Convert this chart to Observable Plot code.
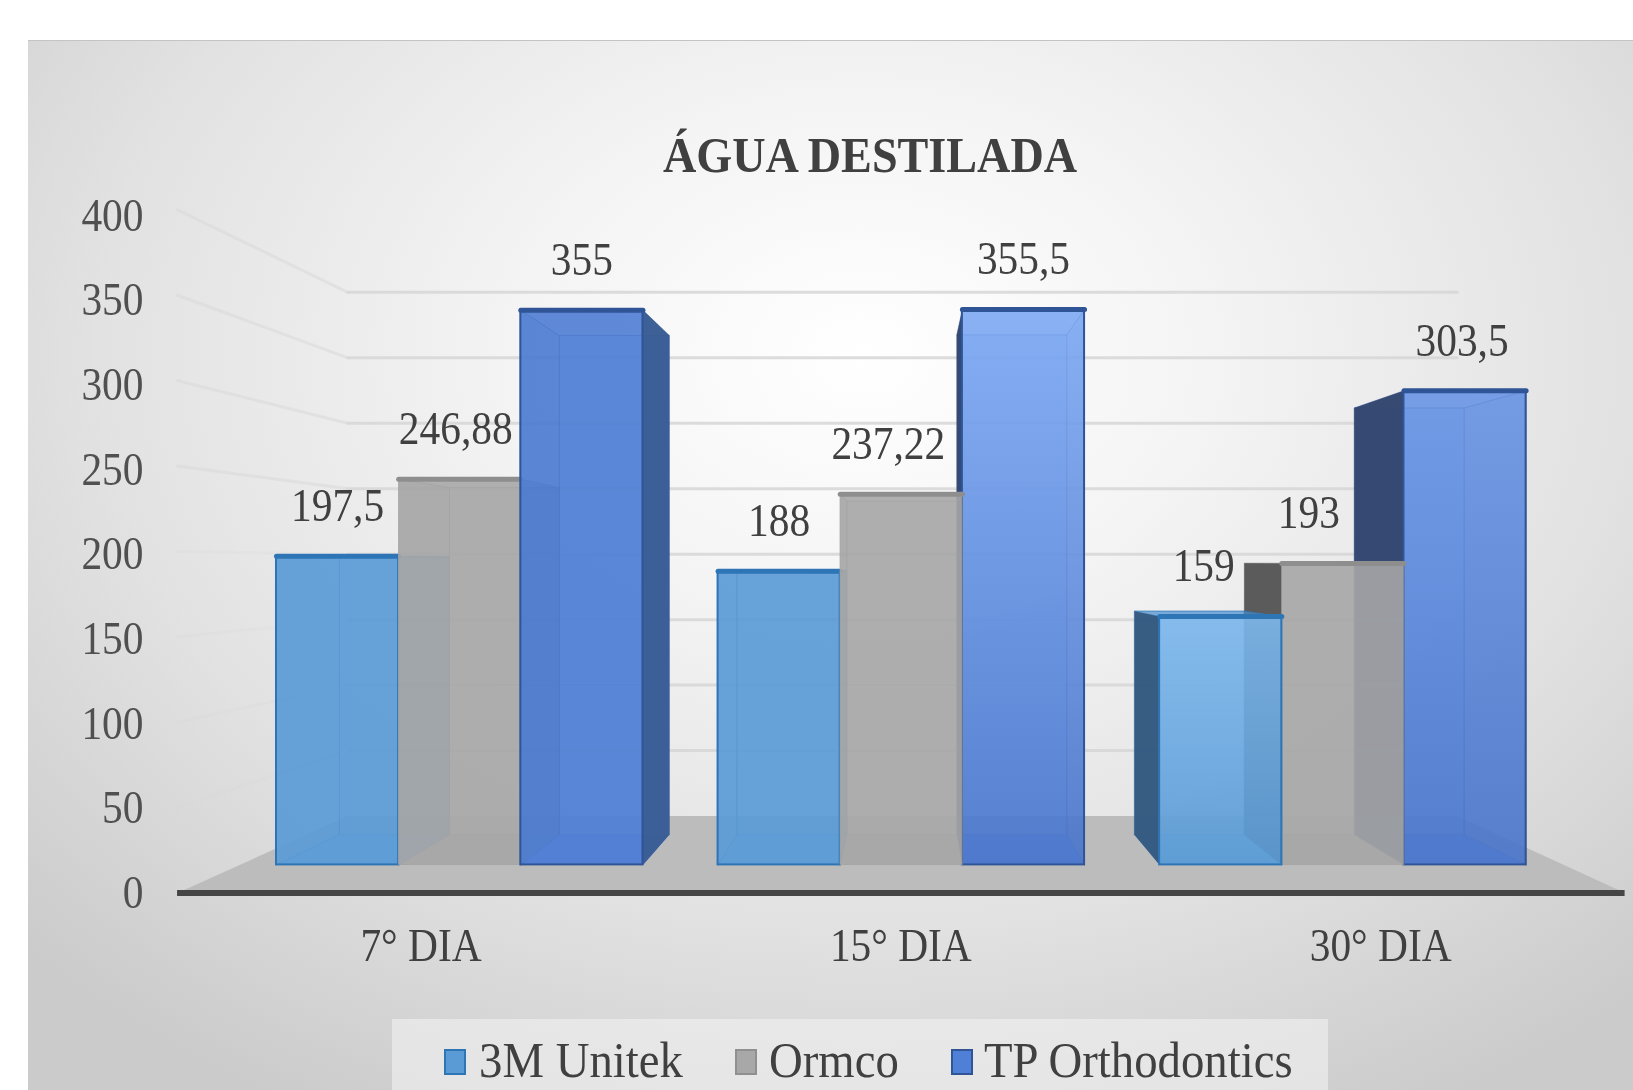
<!DOCTYPE html>
<html lang="pt">
<head>
<meta charset="utf-8">
<title>Água destilada</title>
<script src="https://cdn.jsdelivr.net/npm/d3@7"></script>
<script src="https://cdn.jsdelivr.net/npm/@observablehq/plot@0.6"></script>
<style>
  html, body { margin: 0; padding: 0; width: 1633px; height: 1090px; overflow: hidden; background: #fff; }
  #card { position: absolute; left: 28px; top: 40px; width: 1605px; height: 1050px; overflow: hidden;
    border-top: 1px solid #c4c4c4; box-sizing: border-box;
    background: radial-gradient(ellipse 72% 82% at 52% 30%, #ffffff 0%, #f4f4f4 30%, #e2e2e2 66%, #cbcbcb 100%); }
  #chart { position: absolute; left: 0; top: 0; width: 1633px; height: 1090px; filter: blur(0.7px);
    font-family: "Liberation Serif", serif; color: #404040; }
  #chart svg { position: absolute; left: 0; top: 0; background: transparent; overflow: visible; }
  .title { position: absolute; left: 0; width: 1740px; top: 130px; text-align: center; font-size: 51px; line-height: 1;
    font-weight: bold; color: #404040; transform: scaleX(.905); transform-origin: 870px 0; }
  #legendBox { position: absolute; left: 392px; top: 1019px; width: 936px; height: 71px; background: rgba(240,240,240,.62); }
  .lg { position: absolute; font-size: 50px; line-height: 1; top: 1035px; white-space: nowrap; color: #404040;
    transform: scaleX(.935); transform-origin: 0 0; }
  .sw { position: absolute; width: 22px; height: 26px; top: 1049px; box-sizing: border-box; }
</style>
</head>
<body>
<div id="card"></div>
<svg width="0" height="0" style="position:absolute">
  <defs>
    <linearGradient id="tpLight" x1="0" y1="0" x2="0" y2="1">
      <stop offset="0" stop-color="#82aef8"/><stop offset="1" stop-color="#4a76cc"/>
    </linearGradient>
    <linearGradient id="tpMid" x1="0" y1="0" x2="0" y2="1">
      <stop offset="0" stop-color="#6c98e8"/><stop offset="1" stop-color="#4a76cc"/>
    </linearGradient>
    <linearGradient id="uniLight" x1="0" y1="0" x2="0" y2="1">
      <stop offset="0" stop-color="#82bcf0"/><stop offset="1" stop-color="#5b9bd5"/>
    </linearGradient>
  </defs>
</svg>
<div id="chart"></div>
<script>
const categories = ["7° DIA", "15° DIA", "30° DIA"];
const series = ["3M Unitek", "Ormco", "TP Orthodontics"];
const unitek = [197.5, 188, 159];
const ormco = [246.88, 237.22, 193];
const tp = [355, 355.5, 303.5];
const labels = [["197,5", "188", "159"], ["246,88", "237,22", "193"], ["355", "355,5", "303,5"]];
const yTicks = [0, 50, 100, 150, 200, 250, 300, 350, 400];
const title = "ÁGUA DESTILADA";

/* 3D projection of the Excel chart: k is the depth, 0 being the front of the bars */
const vpX = 870, vpY = 195, kBack = 0.1, kWall = 0.162, kAxis = -0.0934;
const groupStart = g => 265 + 424 * g, barW = 117.3;
const proj = (x, v, k) => {
  const y0 = 16.66 + 0.923 * v;
  return {x: x + (vpX - x) * k, y: y0 + (vpY - y0) * k};
};
const worldL = 229.8, worldR = 1501;

const palette = [
  {base: "#5b9bd5", darkL: "#355a80", darkR: "#355a80", line: "#2e75b6", inner: "#4a90d0", floor: "#4f9be0", edge: 2},
  {base: "#a8a8a8", darkL: "#585858", darkR: "#585858", line: "#8e8e8e", inner: "#8c9094", floor: "#9a9a9a", edge: 0},
  {base: "#4f7fd6", darkL: "#33466e", darkR: "#3a5d95", line: "#2f5597", inner: "#3560b4", floor: "#3f6fd8", edge: 2}
];
const frontFill = [
  ["#5b9bd5", "#5b9bd5", "url(#uniLight)"],
  ["#a8a8a8", "#a8a8a8", "#a8a8a8"],
  ["#4f7fd6", "url(#tpLight)", "url(#tpMid)"]
];
const values = [unitek, ormco, tp];

const poly = (pts, o) => Plot.line([...pts, pts[0]], {x: "x", y: "y", curve: "linear", strokeLinejoin: "round", ...o});

const marks = [];
/* floor */
marks.push(poly([proj(worldL, 0, kAxis), proj(worldR, 0, kAxis), proj(worldR, 0, kWall), proj(worldL, 0, kWall)],
  {fill: "#bcbcbc", stroke: "none"}));
/* wall grid lines */
for (const v of yTicks.slice(1)) {
  marks.push(Plot.line([proj(worldL, v, kWall), proj(worldR, v, kWall)], {x: "x", y: "y", stroke: "#d6d6d6", strokeWidth: 3, strokeOpacity: 0.85}));
  marks.push(Plot.line([proj(worldL, v, kAxis), proj(worldL, v, kWall)], {x: "x", y: "y", stroke: "#d8d8d8", strokeWidth: 3, strokeOpacity: v > 200 ? 0.55 : 0.2}));
}
/* bars, farthest from the vanishing point first */
const bars = [];
categories.forEach((c, g) => series.forEach((s, i) => {
  const x0 = groupStart(g) + barW * i, x1 = x0 + barW;
  bars.push({g, i, x0, x1, v: values[i][g], d: Math.abs((x0 + x1) / 2 - vpX)});
}));
bars.sort((a, b) => b.d - a.d);
for (const b of bars) {
  const c = palette[b.i];
  const {x0, x1, v} = b;
  const f = proj;
  /* back face */
  marks.push(poly([f(x0, 0, kBack), f(x1, 0, kBack), f(x1, v, kBack), f(x0, v, kBack)],
    {fill: c.base, fillOpacity: 0.6, stroke: c.line, strokeWidth: 1, strokeOpacity: 0.5}));
  /* floor of the bar */
  marks.push(poly([f(x0, 0, 0), f(x1, 0, 0), f(x1, 0, kBack), f(x0, 0, kBack)],
    {fill: c.floor, fillOpacity: 0.7, stroke: "none"}));
  /* top seen through the front */
  marks.push(poly([f(x0, v, 0), f(x1, v, 0), f(x1, v, kBack), f(x0, v, kBack)],
    {fill: c.inner, fillOpacity: 0.4, stroke: c.line, strokeWidth: 1, strokeOpacity: 0.5}));
  /* side walls: the outer one is dark, the inner one is seen through the front */
  const outerIsLeft = (x0 + x1) / 2 > vpX + 60;
  const outerIsRight = (x0 + x1) / 2 < vpX - 60;
  const side = x => [f(x, 0, 0), f(x, v, 0), f(x, v, kBack), f(x, 0, kBack)];
  marks.push(poly(side(x0), outerIsLeft
    ? {fill: c.darkL, fillOpacity: 0.97, stroke: "none"}
    : {fill: c.inner, fillOpacity: 0.55, stroke: c.line, strokeWidth: 1, strokeOpacity: 0.5}));
  marks.push(poly(side(x1), outerIsRight && b.i === 2
    ? {fill: c.darkR, fillOpacity: 0.97, stroke: "none"}
    : {fill: c.inner, fillOpacity: 0.45, stroke: c.line, strokeWidth: 1, strokeOpacity: 0.5}));
  /* front face: the actual bar */
  const a = f(x0, 0, 0), t = f(x1, v, 0);
  marks.push(Plot.rect([{x1: a.x, x2: t.x, y1: a.y, y2: t.y}], {
    x1: "x1", x2: "x2", y1: "y1", y2: "y2", fill: frontFill[b.i][b.g], fillOpacity: 0.82,
    stroke: c.line, strokeWidth: c.edge, strokeOpacity: c.edge ? 1 : 0
  }));
  /* heavier top edge */
  marks.push(Plot.line([f(x0, v, 0), f(x1, v, 0)], {x: "x", y: "y", stroke: c.line, strokeWidth: 5}));
}
/* base line of the value axis */
marks.push(Plot.ruleY([0], {x1: proj(worldL, 0, kAxis).x, x2: proj(worldR, 0, kAxis).x, stroke: "#454545", strokeWidth: 6}));

/* value axis */
marks.push(Plot.axisY({ticks: yTicks, tickSize: 0, tickPadding: 3, label: null, fontSize: 46, fill: "#505050"}));

/* category labels */
const catNudge = [3, 0, -3];
categories.forEach((c, g) => {
  marks.push(Plot.text([{c, ...proj(groupStart(g) + 1.5 * barW, 0, kAxis)}],
    {x: "x", y: "y", text: "c", dx: catNudge[g], dy: 53, fontSize: 46, fill: "#404040", lineAnchor: "middle"}));
});

/* data labels */
const nudge = [[0, 0, -17], [-4, -13, -34], [0, 0, -3]];
categories.forEach((c, g) => series.forEach((s, i) => {
  const p = proj(groupStart(g) + barW * (i + 0.5), values[i][g], 0);
  marks.push(Plot.text([{...p, t: labels[i][g]}], {x: "x", y: "y", text: "t", dx: nudge[i][g], dy: -50, fontSize: 46, fill: "#404040", lineAnchor: "middle"}));
}));

const plot = Plot.plot({
  width: 1633, height: 1090, marginLeft: 146, marginTop: 0, marginRight: 0, marginBottom: 0,
  x: {domain: [0, 1568], range: [0, 1633], axis: null},
  y: {domain: [0, 400], range: [892.6, 215.6], axis: null},
  style: {background: "transparent", fontFamily: "'Liberation Serif', serif", overflow: "visible"},
  marks
});
const root = document.getElementById("chart");
root.appendChild(plot);

/* the reference's text is horizontally condensed */
plot.querySelectorAll("text").forEach(el => {
  el.setAttribute("textLength", el.getComputedTextLength() * 0.9);
  el.setAttribute("lengthAdjust", "spacingAndGlyphs");
});

const t = document.createElement("div");
t.className = "title"; t.textContent = title; root.appendChild(t);

const box = document.createElement("div"); box.id = "legendBox"; root.appendChild(box);
const swLeft = [444, 735, 951], txtLeft = [479, 769, 984];
series.forEach((s, i) => {
  const sw = document.createElement("div");
  sw.className = "sw"; sw.style.left = swLeft[i] + "px";
  sw.style.background = palette[i].base; sw.style.border = "2px solid " + (i === 1 ? "#909090" : palette[i].line);
  root.appendChild(sw);
  const l = document.createElement("div");
  l.className = "lg"; l.style.left = txtLeft[i] + "px"; l.textContent = s;
  root.appendChild(l);
});
</script>
</body>
</html>
